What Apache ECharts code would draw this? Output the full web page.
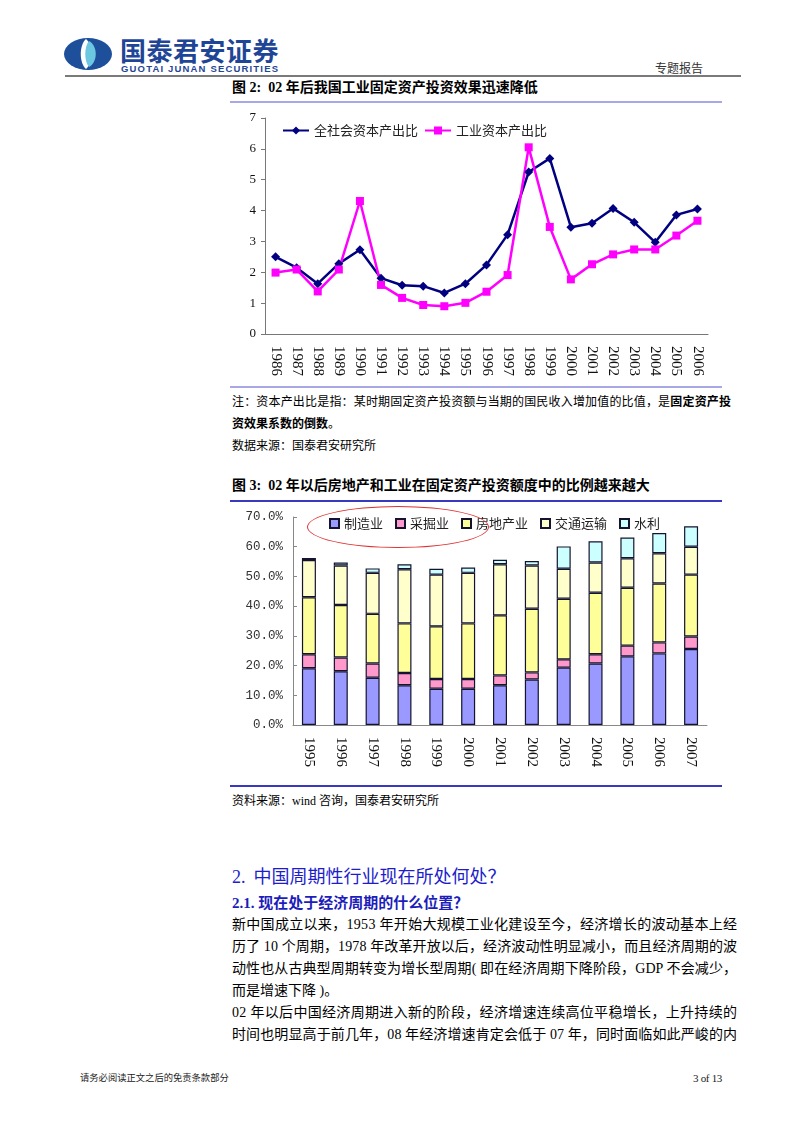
<!DOCTYPE html>
<html><head><meta charset="utf-8">
<script src="https://cdn.jsdelivr.net/npm/echarts@6/dist/echarts.min.js"></script>
<style>
body{margin:0;background:#fff;}
#page{position:relative;width:802px;height:1134px;overflow:hidden;font-family:"Liberation Serif","Noto Sans CJK SC",serif;color:#000;background:#fff;}
.t{position:absolute;white-space:nowrap;}
.hl{position:absolute;}
</style></head>
<body><div id="page">
<svg class="hl" style="left:62px;top:36px" width="56" height="38" viewBox="0 0 56 38">
  <ellipse cx="26" cy="18" rx="24" ry="16" fill="#1d4f9b"/>
  <path d="M24 3 C17 9 17 27 24 33 C31 27 31 9 24 3 Z" fill="#fff"/>
  <path d="M27 5 C22 11 22 25 27 31 C36 26 36 10 27 5 Z" fill="#6cc7e0"/>
</svg>
<div class="t" style="left:120px;top:35px;font-family:'Noto Sans CJK SC';font-weight:bold;font-size:26px;line-height:30px;color:#1f4696;letter-spacing:0.5px">国泰君安证券</div>
<div class="t fit" data-w="157" style="left:121px;top:63px;font-family:'Liberation Sans';font-weight:bold;font-size:9.5px;line-height:11px;color:#1f4696">GUOTAI JUNAN SECURITIES</div>
<div class="t" style="left:655px;top:60px;font-family:'Noto Sans CJK SC';font-size:12px;line-height:16px;color:#333">专题报告</div>
<div class="hl" style="left:65px;top:75px;width:676px;height:2px;background:#7a7a7a"></div>

<div class="t" style="left:232px;top:79px;font-size:14px;line-height:18px;font-weight:bold">图 2:&nbsp; 02 年后我国工业固定资产投资效果迅速降低</div>
<div class="hl" style="left:230px;top:101px;width:492px;height:1.5px;background:#a8a8e6"></div>
<div id="c1" class="hl" style="left:230px;top:105px;width:500px;height:280px"></div>
<div class="hl" style="left:230px;top:386px;width:492px;height:1.5px;background:#a8a8e6"></div>
<div class="t fit" data-w="499" style="left:232px;top:393px;font-size:12px;line-height:18px">注：资本产出比是指：某时期固定资产投资额与当期的国民收入增加值的比值，是<b>固定资产投</b></div>
<div class="t" style="left:232px;top:415px;font-size:12px;line-height:18px"><b>资效果系数的倒数</b>。</div>
<div class="t" style="left:232px;top:437px;font-size:12px;line-height:18px">数据来源：国泰君安研究所</div>

<div class="t" style="left:232px;top:477px;font-size:14px;line-height:18px;font-weight:bold">图 3:&nbsp; 02 年以后房地产和工业在固定资产投资额度中的比例越来越大</div>
<div class="hl" style="left:230px;top:500px;width:492px;height:1.5px;background:#3838c0"></div>
<div id="c2" class="hl" style="left:230px;top:505px;width:500px;height:280px"></div>
<div class="hl" style="left:307px;top:506px;width:180px;height:40px;border:1.3px solid #e03030;border-radius:50%"></div>
<div class="hl" style="left:230px;top:785px;width:492px;height:1.5px;background:#3838c0"></div>
<div class="t" style="left:232px;top:792px;font-size:12px;line-height:18px">资料来源：wind 咨询，国泰君安研究所</div>

<div class="t" style="left:232px;top:863px;font-family:'Noto Sans CJK SC','Liberation Serif';font-size:18px;line-height:24px;color:#1d1dcc"><span style="font-family:'Liberation Serif'">2.</span>&nbsp;&nbsp;中国周期性行业现在所处何处？</div>
<div class="t" style="left:232px;top:893px;font-size:15px;line-height:20px;color:#1d1dbb;font-weight:bold">2.1. 现在处于经济周期的什么位置？</div>
<div class="t fit" data-w="505" style="left:232px;top:915px;font-size:14px;line-height:20px">新中国成立以来，1953 年开始大规模工业化建设至今，经济增长的波动基本上经</div>
<div class="t fit" data-w="505" style="left:232px;top:937px;font-size:14px;line-height:20px">历了 10 个周期，1978 年改革开放以后，经济波动性明显减小，而且经济周期的波</div>
<div class="t fit" data-w="505" style="left:232px;top:959px;font-size:14px;line-height:20px">动性也从古典型周期转变为增长型周期( 即在经济周期下降阶段，GDP 不会减少，</div>
<div class="t" style="left:232px;top:981px;font-size:14px;line-height:20px">而是增速下降 )。</div>
<div class="t fit" data-w="505" style="left:232px;top:1003px;font-size:14px;line-height:20px">02 年以后中国经济周期进入新的阶段，经济增速连续高位平稳增长，上升持续的</div>
<div class="t fit" data-w="505" style="left:232px;top:1025px;font-size:14px;line-height:20px">时间也明显高于前几年，08 年经济增速肯定会低于 07 年，同时面临如此严峻的内</div>

<div class="t" style="left:80px;top:1071px;font-size:9.3px;line-height:14px;color:#222">请务必阅读正文之后的免责条款部分</div>
<div class="t" style="left:693px;top:1071px;font-size:11px;line-height:14px;color:#222;letter-spacing:-0.3px">3 of 13</div>
</div>
<script>
// stretch fixed-break text lines to their measured widths
document.querySelectorAll('.fit').forEach(el=>{
  const target = +el.dataset.w;
  const n = el.textContent.length;
  const w = el.getBoundingClientRect().width;
  el.style.letterSpacing = ((target - w) / Math.max(1, n - 1)) + 'px';
});

// ---- Figure 2 data ----
const years1 = ['1986','1987','1988','1989','1990','1991','1992','1993','1994','1995','1996','1997','1998','1999','2000','2001','2002','2003','2004','2005','2006'];
const socialRatio = [2.50,2.15,1.63,2.28,2.73,1.81,1.58,1.55,1.33,1.63,2.24,3.22,5.25,5.69,3.46,3.59,4.07,3.62,2.97,3.86,4.05];
const industryRatio = [1.99,2.09,1.38,2.09,4.31,1.59,1.17,0.94,0.90,1.01,1.37,1.91,6.05,3.47,1.77,2.26,2.58,2.74,2.74,3.19,3.67];
const seriesNames1 = ['全社会资本产出比','工业资本产出比'];

// ---- Figure 3 data (percent of fixed asset investment) ----
const years2 = ['1995','1996','1997','1998','1999','2000','2001','2002','2003','2004','2005','2006','2007'];
const manufacturing = [19.1,18.1,15.9,13.4,12.2,12.2,13.4,15.3,19.3,20.7,23.1,24.1,25.6];
const mining = [4.7,4.6,4.8,4.1,3.3,3.3,3.3,2.4,2.8,3.1,3.6,3.7,4.2];
const realEstate = [19.2,17.7,16.7,16.7,17.7,18.7,20.2,21.4,20.4,20.7,19.5,19.8,20.8];
const transport = [12.5,13.3,13.8,18.2,17.4,17.0,17.2,14.6,10.1,10.2,9.9,10.2,9.4];
const waterConservancy = [0.7,1.0,1.5,1.7,2.0,1.8,1.5,1.5,7.5,7.1,7.0,6.8,6.9];
const seriesNames2 = ['制造业','采掘业','房地产业','交通运输','水利'];

const serif = 'Liberation Serif';
const cjk = 'Noto Sans CJK SC';

const c1 = echarts.init(document.getElementById('c1'));
c1.setOption({
  animation:false,
  grid:{left:35,top:13,width:443,height:216},
  legend:{
    left:47, top:14, itemWidth:26, itemHeight:10, itemGap:6,
    textStyle:{fontFamily:cjk,fontSize:13,color:'#222'},
    data:seriesNames1
  },
  xAxis:{
    type:'category', data:years1, boundaryGap:true,
    axisLine:{lineStyle:{color:'#777',width:1}},
    axisTick:{inside:false,length:5,lineStyle:{color:'#777'}},
    axisLabel:{rotate:-90,margin:12,fontFamily:serif,fontSize:15,color:'#111',interval:0}
  },
  yAxis:{
    type:'value', min:0, max:7, interval:1,
    splitLine:{show:false},
    axisLine:{show:true,lineStyle:{color:'#777',width:1}},
    axisTick:{show:true,length:4,lineStyle:{color:'#777'}},
    axisLabel:{fontFamily:serif,fontSize:13,color:'#111',margin:9}
  },
  series:[
    {name:seriesNames1[0],type:'line',data:socialRatio,symbol:'diamond',symbolSize:9,
     lineStyle:{color:'#000080',width:2.5},itemStyle:{color:'#000080'}},
    {name:seriesNames1[1],type:'line',data:industryRatio,symbol:'rect',symbolSize:8,
     lineStyle:{color:'#ff00ff',width:2.5},itemStyle:{color:'#ff00ff'}}
  ]
});

const colors2 = ['#9999ff','#ff99cc','#ffff99','#ffffcc','#ccffff'];
const vals2 = [manufacturing,mining,realEstate,transport,waterConservancy];
const c2 = echarts.init(document.getElementById('c2'));
c2.setOption({
  animation:false,
  grid:{left:63,top:12,width:414,height:208},
  legend:{
    left:94, top:7, itemWidth:9, itemHeight:9, itemGap:12, icon:'rect',
    textStyle:{fontFamily:cjk,fontSize:13,color:'#222'},
    data:seriesNames2
  },
  xAxis:{
    type:'category', data:years2, boundaryGap:true,
    axisLine:{lineStyle:{color:'#888',width:1}},
    axisTick:{inside:true,length:5,lineStyle:{color:'#888'}},
    axisLabel:{rotate:-90,margin:12,fontFamily:serif,fontSize:15,color:'#111',interval:0}
  },
  yAxis:{
    type:'value', min:0, max:70, interval:10,
    splitLine:{show:false},
    axisLine:{show:true,lineStyle:{color:'#888',width:1}},
    axisTick:{show:true,inside:true,length:4,lineStyle:{color:'#888'}},
    axisLabel:{fontFamily:'Liberation Mono',fontSize:12.5,color:'#333',margin:10,
      formatter:v=>v.toFixed(1)+'%'}
  },
  series: seriesNames2.map((n,i)=>({
    name:n,type:'bar',stack:'all',data:vals2[i],barWidth:14,
    itemStyle:{color:colors2[i],borderColor:'#141430',borderWidth:1.2}
  }))
});
</script>
</body></html>
